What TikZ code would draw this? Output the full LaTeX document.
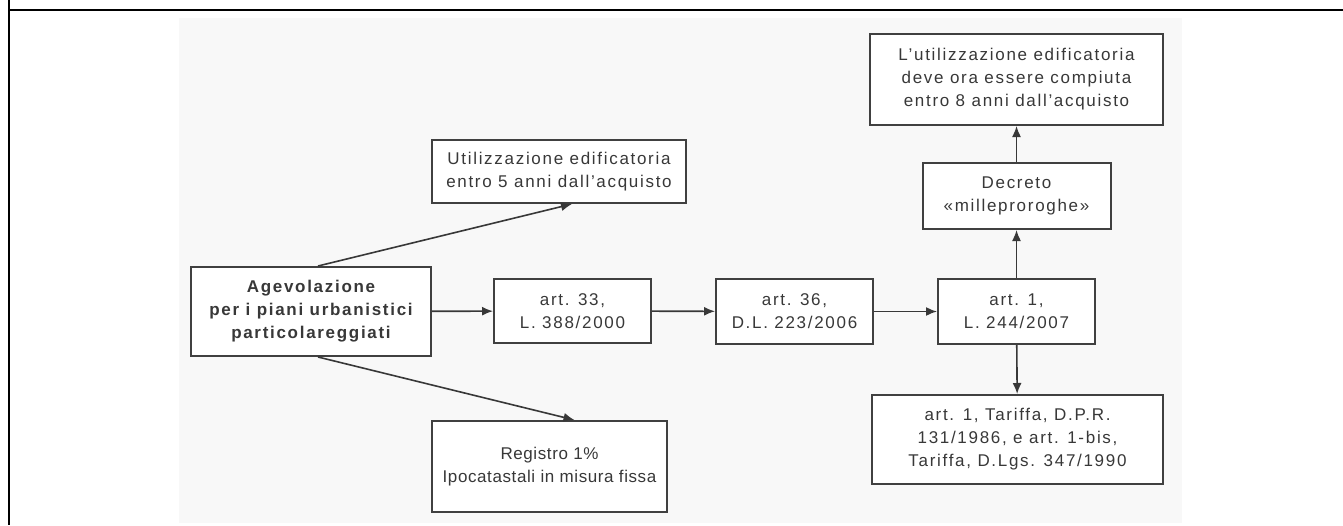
\documentclass[tikz,border=0pt]{standalone}
\usepackage{fontspec}
\setmainfont{Liberation Sans}[LetterSpace=10]
\usetikzlibrary{arrows.meta}
\definecolor{bg}{HTML}{F8F8F8}
\definecolor{ink}{HTML}{383838}
\definecolor{edge}{HTML}{404040}
\tikzset{
  box/.style={draw=edge, line width=2pt, fill=white, text=ink, align=center,
    inner sep=0pt, font=\fontsize{17}{23}\selectfont},
  conn/.style={draw=ink, line width=1.6pt, -{Latex[length=11pt,width=9pt]}}
}
\begin{document}
\begin{tikzpicture}[x=1pt,y=-1pt]
\useasboundingbox (0,0) rectangle (1343,525);
\fill[bg] (179,18) rectangle (1182,523);
\draw[line width=2.5pt] (9,0) -- (9,525);
\draw[line width=2.5pt] (9,10) -- (1343,10);

\node[box, minimum width=240pt, minimum height=89pt] (agev) at (311,311.5)
  {\bfseries Agevolazione\\\bfseries per i piani urbanistici\\\bfseries particolareggiati};
\node[box, minimum width=157pt, minimum height=64pt] (a33) at (572.5,311) {art. 33,\\L. 388/2000};
\node[box, minimum width=157pt, minimum height=65pt] (a36) at (794.5,311.5) {art. 36,\\D.L. 223/2006};
\node[box, minimum width=157pt, minimum height=65pt] (a1) at (1016.5,311.5) {art. 1,\\L. 244/2007};
\node[box, minimum width=188pt, minimum height=66pt] (dec) at (1016.5,196) {Decreto\\«milleproroghe»};
\node[box, minimum width=293pt, minimum height=91pt] (top) at (1016.5,79.5)
  {L’utilizzazione edificatoria\\deve ora essere compiuta\\entro 8 anni dall’acquisto};
\node[box, minimum width=291pt, minimum height=89pt] (bot) at (1017.5,439.5)
  {art. 1, Tariffa, D.P.R.\\131/1986, e art. 1-bis,\\Tariffa, D.Lgs. 347/1990};
\node[box, minimum width=254pt, minimum height=63pt] (util) at (559,171.5)
  {Utilizzazione edificatoria\\entro 5 anni dall’acquisto};
\node[box, minimum width=235pt, minimum height=91pt,
  font=\fontsize{17}{23}\selectfont\addfontfeature{LetterSpace=3.5}] (reg) at (549.5,466.5)
  {Registro 1\%\\Ipocatastali in misura fissa};

\draw[conn] (agev) -- (a33);
\draw[conn] (a33) -- (a36);
\draw[conn] (a36) -- (a1);
\draw[conn] (a1) -- (dec);
\draw[conn] (dec) -- (top);
\draw[conn] (a1) -- (bot);
\draw[conn] ([xshift=7pt]agev.north) -- ([xshift=13pt]util.south);
\draw[conn] ([xshift=7pt]agev.south) -- ([xshift=25pt]reg.north);
\end{tikzpicture}
\end{document}
